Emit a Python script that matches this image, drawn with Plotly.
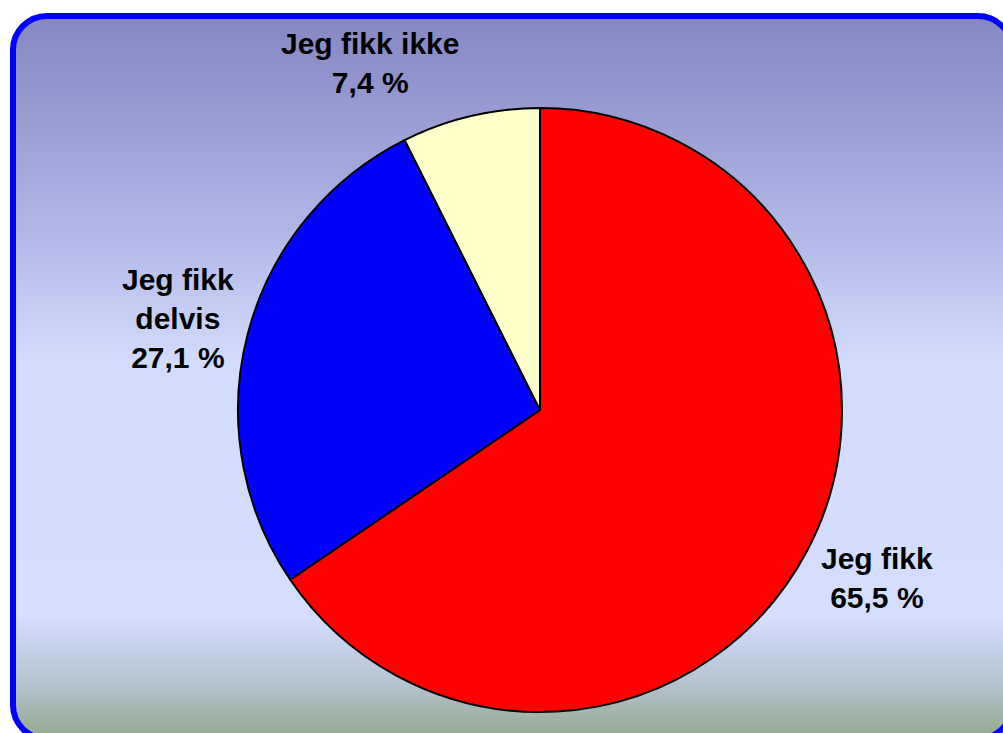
import base64
import plotly.graph_objects as go

# data
labels = ["Jeg fikk", "Jeg fikk delvis", "Jeg fikk ikke"]
label_lines = ["Jeg fikk", "Jeg fikk<br>delvis", "Jeg fikk ikke"]
values = [65.5, 27.1, 7.4]
colors = ["#ff0000", "#0000ff", "#ffffcc"]

# background: rounded frame with vertical gradient
svg = """<svg xmlns="http://www.w3.org/2000/svg" width="1003" height="733" viewBox="0 0 1003 733">
<defs><linearGradient id="g" x1="0" y1="0" x2="0" y2="1">
<stop offset="0" stop-color="#8587c1"/>
<stop offset="0.15" stop-color="#9a9ed4"/>
<stop offset="0.33" stop-color="#b6bdea"/>
<stop offset="0.48" stop-color="#d3dcfd"/>
<stop offset="0.83" stop-color="#d5deff"/>
<stop offset="0.92" stop-color="#b6c4d2"/>
<stop offset="1" stop-color="#93a88e"/>
</linearGradient></defs>
<rect x="13" y="16" width="999" height="723" rx="34" ry="34" fill="url(#g)" stroke="#0000ff" stroke-width="6"/>
</svg>"""
bg = "data:image/svg+xml;base64," + base64.b64encode(svg.encode()).decode()

fig = go.Figure()
fig.add_trace(go.Pie(
    labels=labels,
    values=values,
    sort=False,
    direction="clockwise",
    rotation=0,
    marker=dict(colors=colors, line=dict(color="black", width=2)),
    textinfo="none",
    hoverinfo="label+percent",
    domain=dict(x=[238 / 1003, 842 / 1003], y=[21 / 733, 625 / 733]),
))

# label positions (paper coords)
label_pos = [(877, 578), (178, 319), (370, 63)]
for name, v, (px, py) in zip(label_lines, values, label_pos):
    fig.add_annotation(
        x=px / 1003, y=1 - py / 733, xref="paper", yref="paper",
        text=f"<b>{name}<br>{v:.1f} %</b>".replace(".", ","),
        showarrow=False, xanchor="center", yanchor="middle",
        font=dict(family="Liberation Sans, Arial", size=30, color="black"),
    )

fig.update_layout(
    width=1003, height=733,
    margin=dict(l=0, r=0, t=0, b=0),
    paper_bgcolor="white",
    showlegend=False,
    images=[dict(source=bg, xref="paper", yref="paper", x=0, y=1,
                 sizex=1, sizey=1, xanchor="left", yanchor="top",
                 sizing="stretch", layer="below")],
)

fig.write_html("out.html", config={"displayModeBar": False},
               post_script="document.body.style.margin='0';document.body.style.overflow='hidden';")
